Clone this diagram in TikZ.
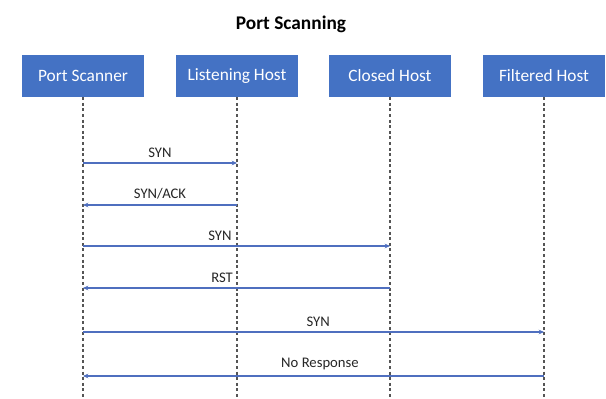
\documentclass[tikz,border=0pt]{standalone}
\usepackage{fontspec}
\setmainfont{Carlito}
\usetikzlibrary{arrows.meta,positioning}
\definecolor{hostblue}{HTML}{4472C4}
\definecolor{msgblue}{HTML}{4F6FBF}
\definecolor{lifegray}{HTML}{555555}
\tikzset{
  host/.style={fill=hostblue, text=white, minimum width=91.5pt, minimum height=31.5pt,
    inner sep=0pt, font=\fontsize{13}{15}\selectfont},
  lifeline/.style={lifegray, line width=1.1pt, dash pattern=on 2.2pt off 2pt},
  msg/.style={msgblue, line width=0.8pt, -{Stealth[length=4pt,width=3.5pt]}},
  msglabel/.style={font=\fontsize{11}{13}\selectfont, text=black!85, above=0.5pt}
}

\begin{document}
\begin{tikzpicture}[x=0.75pt,y=-0.75pt]
  \useasboundingbox (0,0) rectangle (606,399);

  % Title
  \node[font=\bfseries\fontsize{14.5}{17}\selectfont] (title) at (291,24) {Port Scanning};

  % Hosts
  \node[host] (scanner)  at (83,76)  {Port Scanner};
  \node[host] (listen)   at (237,76) {Listening Host};
  \node[host] (closed)   at (390,76) {Closed Host};
  \node[host] (filtered) at (544,76) {Filtered Host};

  % Lifelines
  \coordinate (bottom) at (0,399);
  \foreach \h in {scanner,listen,closed,filtered}
    \draw[lifeline] (\h.south) -- (\h |- bottom);

  % Message rows
  \foreach \y [count=\i] in {163,205,246,288,332,376}
    \coordinate (row\i) at (0,\y);

  % Listening host
  \draw[msg] (scanner |- row1) -- node[msglabel] {SYN} (listen |- row1);
  \draw[msg] (listen |- row2) -- node[msglabel] {SYN/ACK} (scanner |- row2);

  % Closed host
  \draw[msg] (scanner |- row3) -- node[msglabel,pos=0.446] {SYN} (closed |- row3);
  \draw[msg] (closed |- row4) -- node[msglabel,pos=0.547] {RST} (scanner |- row4);

  % Filtered host
  \draw[msg] (scanner |- row5) -- node[msglabel,pos=0.51] {SYN} (filtered |- row5);
  \draw[msg] (filtered |- row6) -- node[msglabel,pos=0.486] {No Response} (scanner |- row6);
\end{tikzpicture}
\end{document}
